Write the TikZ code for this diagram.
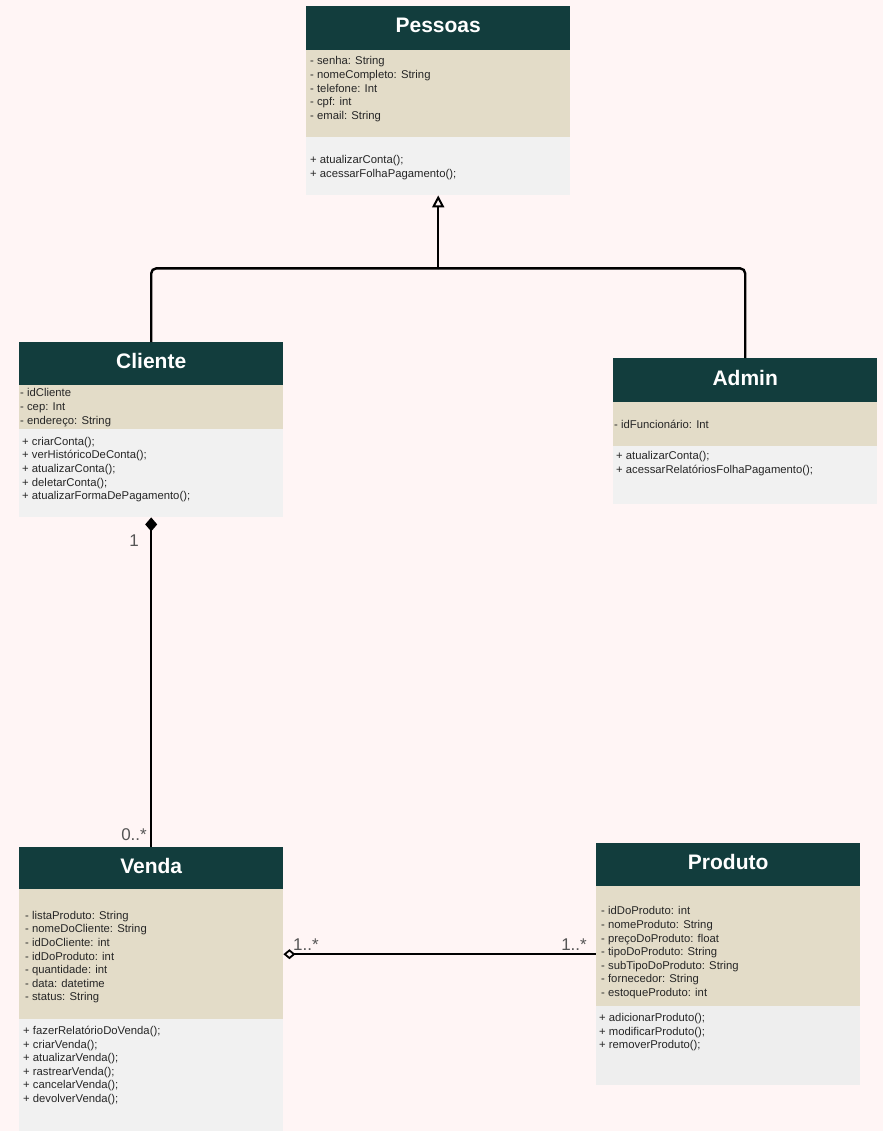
\documentclass[tikz,border=0pt]{standalone}
\usepackage{fontspec}
\setmainfont{Liberation Sans}
\usepackage{tikz}
\usetikzlibrary{calc}
\usetikzlibrary{arrows.meta}

\definecolor{bgcol}{HTML}{FFF5F5}
\definecolor{headcol}{HTML}{123D3D}
\definecolor{attrcol}{HTML}{E3DCC8}
\definecolor{methcol}{HTML}{F1F1F1}
\definecolor{methcolb}{HTML}{EEEEEE}
\definecolor{multcol}{HTML}{555555}

\begin{document}
\begin{tikzpicture}[x=1pt,y=-1pt,
	head/.style={fill=headcol, text=white, font=\bfseries\fontsize{21}{24}\selectfont, text depth=5pt, minimum width=264pt, inner sep=0, anchor=north west},
	comp/.style={minimum width=264pt, inner sep=0, anchor=north west},
	txt/.style={font=\fontsize{11.3}{13.6}\selectfont, text=black!85, align=left, inner sep=0, anchor=north west},
	mult/.style={font=\fontsize{17}{20}\selectfont, text=multcol, inner sep=0},
	link/.style={line width=2.4pt}]

	\fill[bgcol] (0,0) rectangle (883,1131);
	\useasboundingbox (0,0) rectangle (883,1131);

	% Pessoas
	\node[head, minimum height=44pt] (pessoas) at (306,6) {Pessoas};
	\node[comp, fill=attrcol, minimum height=87pt] (pessoasA) at (306,50) {};
	\node[comp, fill=methcol, minimum height=58pt] (pessoasM) at (306,137) {};
	\node[txt] (pessoasAt) at (310,56.5) {- senha: String\\- nomeCompleto: String\\- telefone: Int\\- cpf: int\\- email: String};
	\node[txt] (pessoasMt) at (310,155.5) {+ atualizarConta();\\+ acessarFolhaPagamento();};

	% Cliente
	\node[head, minimum height=43pt] (cliente) at (19,342) {Cliente};
	\node[comp, fill=attrcol, minimum height=44pt] (clienteA) at (19,385) {};
	\node[comp, fill=methcol, minimum height=88pt] (clienteM) at (19,429) {};
	\node[txt] (clienteAt) at (20,388.5) {- idCliente\\- cep: Int\\- endereço: String};
	\node[txt] (clienteMt) at (22,437) {+ criarConta();\\+ verHistóricoDeConta();\\+ atualizarConta();\\+ deletarConta();\\+ atualizarFormaDePagamento();};

	% Admin
	\node[head, minimum height=44pt] (admin) at (613,358) {Admin};
	\node[comp, fill=attrcol, minimum height=44pt] (adminA) at (613,402) {};
	\node[comp, fill=methcol, minimum height=58pt] (adminM) at (613,446) {};
	\node[txt] (adminAt) at (614,419.5) {- idFuncionário: Int};
	\node[txt] (adminMt) at (616,451.5) {+ atualizarConta();\\+ acessarRelatóriosFolhaPagamento();};

	% Venda
	\node[head, minimum height=42pt] (venda) at (19,847) {Venda};
	\node[comp, fill=attrcol, minimum height=130pt] (vendaA) at (19,889) {};
	\node[comp, fill=methcol, minimum height=112pt] (vendaM) at (19,1019) {};
	\node[txt] (vendaAt) at (25,911) {- listaProduto: String\\- nomeDoCliente: String\\- idDoCliente: int\\- idDoProduto: int\\- quantidade: int\\- data: datetime\\- status: String};
	\node[txt] (vendaMt) at (23,1026) {+ fazerRelatórioDoVenda();\\+ criarVenda();\\+ atualizarVenda();\\+ rastrearVenda();\\+ cancelarVenda();\\+ devolverVenda();};

	% Produto
	\node[head, minimum height=43pt] (produto) at (596,843) {Produto};
	\node[comp, fill=attrcol, minimum height=120pt] (produtoA) at (596,886) {};
	\node[comp, fill=methcolb, minimum height=79pt] (produtoM) at (596,1006) {};
	\node[txt] (produtoAt) at (601,906.5) {- idDoProduto: int\\- nomeProduto: String\\- preçoDoProduto: float\\- tipoDoProduto: String\\- subTipoDoProduto: String\\- fornecedor: String\\- estoqueProduto: int};
	\node[txt] (produtoMt) at (599,1013) {+ adicionarProduto();\\+ modificarProduto();\\+ removerProduto();};

	% heranca
	\coordinate (inh) at ($(pessoasM.south)+(0,73)$);
	\draw[link, rounded corners=5pt] (cliente.north) |- (inh);
	\draw[link, rounded corners=5pt] (admin.north) |- (inh);
	\draw[link, -{Triangle[open, length=12pt, width=12pt, line width=2pt]}] (inh) -- (pessoasM.south);

	% composicao
	\draw[link, {Diamond[length=14pt, width=12pt]}-] (clienteM.south) -- (venda.north);
	\node[mult] (m1) at (134,541) {1};
	\node[mult, anchor=east] (m2) at (147,835) {0..*};

	% agregacao
	\coordinate (aggL) at ($(vendaA.east)+(0,0)$);
	\draw[link, {Diamond[open, length=12pt, width=10pt, line width=1.8pt]}-] (aggL) -- (aggL -| produtoA.west);
	\node[mult, anchor=west] (m3) at (293,945) {1..*};
	\node[mult, anchor=east] (m4) at (587,945) {1..*};

\end{tikzpicture}
\end{document}
